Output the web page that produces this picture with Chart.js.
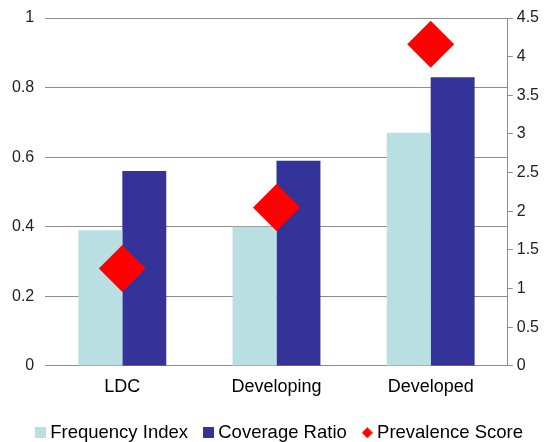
<!DOCTYPE html>
<html>
<head>
<meta charset="utf-8">
<script src="https://cdn.jsdelivr.net/npm/chart.js@4.4.0/dist/chart.umd.min.js"></script>
<style>
  html, body { margin: 0; padding: 0; background: #fff; }
  #wrap { width: 547px; height: 442px; }
</style>
</head>
<body>
<div id="wrap"><canvas id="chart"></canvas></div>
<script>
const categories = ['LDC', 'Developing', 'Developed'];
const frequencyIndex = [0.39, 0.40, 0.67];
const coverageRatio = [0.56, 0.59, 0.83];
const prevalenceScore = [1.26, 2.05, 4.16];
const leftTicks = [0, 0.2, 0.4, 0.6, 0.8, 1];
const rightTicks = [0, 0.5, 1, 1.5, 2, 2.5, 3, 3.5, 4, 4.5];

const lightBlue = '#badfe3';
const darkBlue = '#333399';
const red = '#ff0000';
const gridGray = '#8c8c8c';
const font = "'Liberation Sans', Arial, sans-serif";

// small icons for the legend
function legendIcon(color, diamond) {
    const c = document.createElement('canvas');
    c.width = 11; c.height = 11;
    const g = c.getContext('2d');
    g.fillStyle = color;
    if (diamond) {
        g.beginPath();
        g.moveTo(5.5, 0); g.lineTo(11, 5.5); g.lineTo(5.5, 11); g.lineTo(0, 5.5);
        g.closePath();
        g.fill();
    } else {
        g.fillRect(0, 0, 11, 11);
    }
    return c;
}
const icons = [legendIcon(lightBlue), legendIcon(darkBlue), legendIcon(red, true)];

// nudge the legend a little to the right, like the original
const legendShift = {
    id: 'legendShift',
    afterLayout(chart) {
        chart.legend.left += 4;
        chart.legend.right += 4;
    }
};

document.addEventListener("DOMContentLoaded", function() {
    const ctx = document.getElementById('chart').getContext('2d');
    new Chart(ctx, {
        type: 'bar',
        data: {
            labels: categories,
            datasets: [{
                label: 'Frequency Index',
                data: frequencyIndex,
                backgroundColor: lightBlue,
                yAxisID: 'y',
                order: 1
            }, {
                label: 'Coverage Ratio',
                data: coverageRatio,
                backgroundColor: darkBlue,
                yAxisID: 'y',
                order: 1
            }, {
                type: 'line',
                label: 'Prevalence Score',
                data: prevalenceScore,
                showLine: false,
                pointStyle: 'rectRot',
                pointRadius: 23.5,
                pointHoverRadius: 23.5,
                pointBorderWidth: 0,
                backgroundColor: red,
                borderColor: red,
                yAxisID: 'y1',
                order: 0
            }]
        },
        plugins: [legendShift],
        options: {
            responsive: true,
            maintainAspectRatio: false,
            animation: false,
            layout: {autoPadding: false, padding: {left: 12, right: 4, top: 18, bottom: -10}},
            datasets: {
                bar: {categoryPercentage: 0.57, barPercentage: 1.0}
            },
            plugins: {
                tooltip: {enabled: false},
                legend: {
                    position: 'bottom',
                    labels: {
                        usePointStyle: true,
                        pointStyleWidth: 1,
                        boxHeight: 11,
                        padding: 20,
                        color: '#000',
                        font: {family: font, size: 18.5},
                        generateLabels: function(chart) {
                            return chart.data.datasets.map((ds, i) => ({
                                text: ds.label,
                                pointStyle: icons[i],
                                fillStyle: ds.backgroundColor,
                                strokeStyle: ds.backgroundColor,
                                lineWidth: 0,
                                datasetIndex: i
                            }));
                        }
                    }
                }
            },
            scales: {
                x: {
                    grid: {display: false},
                    border: {display: true, color: gridGray, width: 1},
                    afterFit: axis => { axis.height += 4; },
                    ticks: {
                        color: '#000',
                        padding: 2,
                        font: {family: font, size: 18}
                    }
                },
                y: {
                    position: 'left',
                    min: leftTicks[0],
                    max: leftTicks[leftTicks.length - 1],
                    afterBuildTicks: axis => { axis.ticks = leftTicks.map(v => ({value: v})); },
                    grid: {color: gridGray, lineWidth: 1, drawTicks: true, tickLength: 11, tickColor: 'rgba(0,0,0,0)'},
                    border: {display: false},
                    ticks: {
                        color: '#222',
                        padding: 0,
                        callback: v => String(v),
                        font: {family: font, size: 16}
                    }
                },
                y1: {
                    position: 'right',
                    min: rightTicks[0],
                    max: rightTicks[rightTicks.length - 1],
                    afterBuildTicks: axis => { axis.ticks = rightTicks.map(v => ({value: v})); },
                    grid: {drawOnChartArea: false, color: gridGray, tickLength: 5},
                    border: {display: true, color: gridGray, width: 1},
                    ticks: {
                        color: '#222',
                        padding: 4,
                        callback: v => String(v),
                        font: {family: font, size: 16}
                    }
                }
            }
        }
    });
});
</script>
</body>
</html>
